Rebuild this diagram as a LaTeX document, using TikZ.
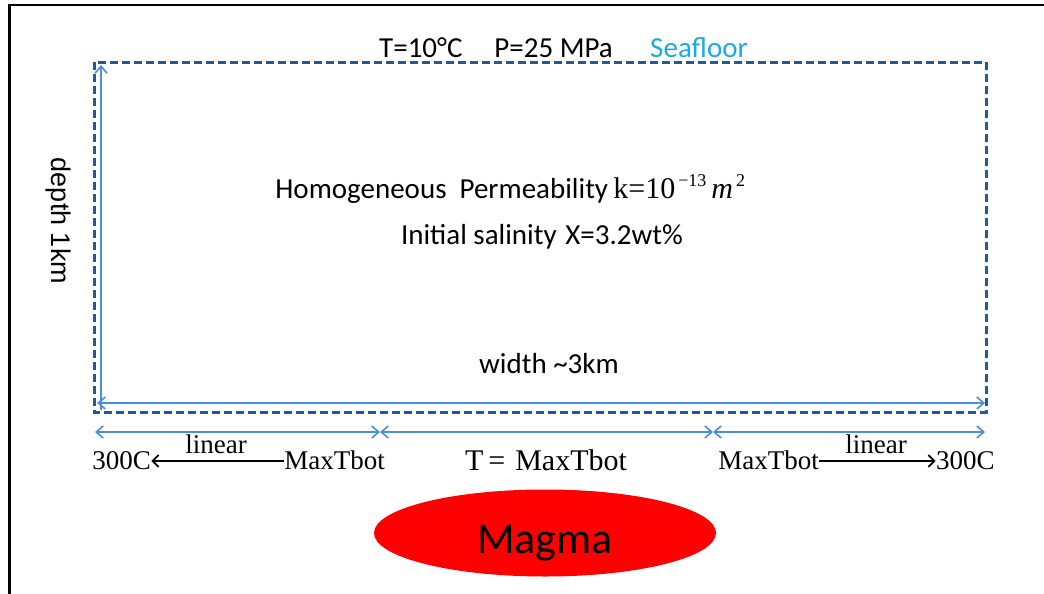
\documentclass[tikz,border=0pt]{standalone}
\usepackage{fontspec}
\setmainfont{Carlito}
\newfontfamily\tnr{Liberation Serif}
\newfontfamily\arialf{Liberation Sans}
\usetikzlibrary{arrows.meta,shapes.geometric}
\definecolor{boxblue}{HTML}{1F5A9A}
\definecolor{arrblue}{HTML}{4A8FD8}
\definecolor{seablue}{HTML}{1EA8E6}
\definecolor{magmared}{HTML}{FF0000}
\tikzset{
  domainbox/.style={draw=boxblue, line width=1.5pt, dash pattern=on 4pt off 2pt},
  dimarrow/.style={draw=arrblue, line width=0.8pt, {Straight Barb[length=3.5pt,width=6pt]}-{Straight Barb[length=3.5pt,width=6pt]}},
  uparrow/.style={draw=arrblue, line width=0.8pt, -{Straight Barb[length=3.5pt,width=6pt]}},
  blackarrow/.style={draw=black, line width=0.6pt, -{Straight Barb[length=3pt,width=6pt,line width=0.9pt]}},
  bodytext/.style={inner sep=0pt, font=\fontsize{14.5}{17}\selectfont},
  serif/.style={inner sep=0pt, font=\tnr\fontsize{13.5}{16}\selectfont},
}
\begin{document}
\begin{tikzpicture}[x=0.5pt,y=-0.5pt]
\useasboundingbox (0,0) rectangle (1044,594);
% outer frame (top and left edges only)
\coordinate (frTR) at (1044,5);
\coordinate (frTL) at (9.5,5);
\coordinate (frBL) at (9.5,594);
\draw[line width=1.3pt] (frTR) -- (frTL) -- (frBL);

% domain box
\coordinate (boxTL) at (94,62);
\coordinate (boxBR) at (986,412);
\draw[domainbox] (boxTL) rectangle (boxBR);

% depth arrow
\coordinate (depB) at (101,410);
\coordinate (depT) at (101,65);
\draw[uparrow] (depB) -- (depT);
% width arrow
\coordinate (widL) at (97,403);
\coordinate (widR) at (985,403);
\draw[dimarrow] (widL) -- (widR);

% bottom segments
\coordinate (s0) at (95,432);
\coordinate (s1) at (380,432);
\coordinate (s2) at (713,432);
\coordinate (s3) at (985,432);
\draw[dimarrow] (s0) -- (s1);
\draw[dimarrow] (s1) -- (s2);
\draw[dimarrow] (s2) -- (s3);

% top labels
\node[bodytext, anchor=base] (tp) at (496,57) {T=10°C\hspace{1.1em}P=25 MPa};
\node[bodytext, anchor=base, text=seablue] (sea) at (699,57) {Seafloor};

% depth label
\node[inner sep=0pt, font=\arialf\fontsize{13.5}{16}\selectfont, rotate=-90] (dep) at (58,221) {depth 1km};

% centre labels
\node[bodytext, anchor=base west] (hom) at (275,198) {Homogeneous\hspace{0.45em}Permeability};
\node[inner sep=0pt, anchor=base west] (kval) at (613,198) {\tnr\fontsize{15}{18}\selectfont k=10\raisebox{6pt}{\fontsize{9}{10}\selectfont \,−13}\,\textit{m}\raisebox{6pt}{\fontsize{9}{10}\selectfont \,2}};
\node[bodytext, anchor=base] (sal) at (542,244) {Initial salinity\hspace{0.3em}X=3.2wt\%};
\node[bodytext, anchor=base] (wid) at (549,373) {width \textasciitilde3km};

% bottom boundary labels
\node[serif, anchor=base west] (lc) at (92,469) {300C};
\node[serif, anchor=base west] (lm) at (284,469) {MaxTbot};
\draw[blackarrow] (lm.west |- 0,461) -- (lc.east |- 0,461);
\node[serif, anchor=base] (ll) at (216,453) {linear};

\node[serif, anchor=base] (cm) at (546,470) {\fontsize{15}{18}\selectfont T\,=\,\,MaxTbot};

\node[serif, anchor=base west] (rm) at (718,469) {MaxTbot};
\node[serif, anchor=base east] (rc) at (995,469) {300C};
\draw[blackarrow] (rm.east |- 0,461) -- (rc.west |- 0,461);
\node[serif, anchor=base] (rl) at (876,453) {linear};

% magma
\node[ellipse, fill=magmared, minimum width=171pt, minimum height=43.5pt, inner sep=0pt] (mag) at (545,533) {};
\node[inner sep=0pt, anchor=base, font=\fontsize{22}{26}\selectfont] (magt) at (545,553) {Magma};
\end{tikzpicture}
\end{document}
